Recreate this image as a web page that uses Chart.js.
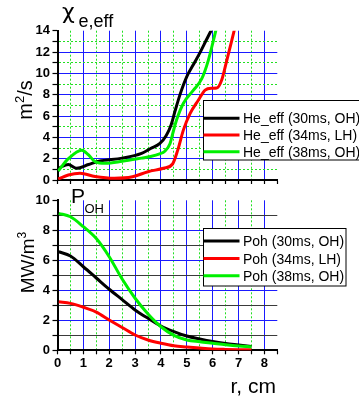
<!DOCTYPE html>
<html>
<head>
<meta charset="utf-8">
<script src="https://cdn.jsdelivr.net/npm/chart.js@4.4.1/dist/chart.umd.min.js"></script>
<style>
html,body{margin:0;padding:0;background:#fff;overflow:hidden;width:359px;height:403px;}
#wrap{position:relative;width:359px;height:403px;overflow:hidden;}
canvas{position:absolute;left:0;top:0;}
svg{position:absolute;left:0;top:0;font-family:"Liberation Sans",Arial,sans-serif;}
</style>
</head>
<body>
<div id="wrap">
<canvas id="top" width="359" height="403"></canvas>
<canvas id="bot" width="359" height="403"></canvas>
<svg id="ov" width="359" height="403" xmlns="http://www.w3.org/2000/svg"></svg>
</div>
<script>
// ---------- data ----------
// upper panel: chi_e,eff [m^2/s] vs r [cm]
const chiR30 = [0.03, 0.42, 0.74, 1.2, 1.6, 2.5, 3.25, 3.6, 3.95, 4.2, 4.4, 4.55, 4.75, 5.0, 5.25, 5.5, 5.75, 6.0];
const chi30  = [1.1, 1.45, 1.1, 1.45, 1.75, 2.05, 2.5, 2.95, 3.4, 4.15, 5.2, 6.5, 8.1, 9.7, 10.8, 11.9, 13.1, 14.3];
const chiR34 = [0.03, 0.42, 0.87, 1.45, 2.2, 2.9, 3.5, 4.1, 4.45, 4.65, 4.87, 5.13, 5.45, 5.71, 5.95, 6.16, 6.35, 6.55, 6.74, 6.86];
const chi34  = [0.1, 0.47, 0.63, 0.33, 0.16, 0.3, 0.78, 1.1, 1.5, 2.8, 4.7, 6.25, 7.5, 8.43, 8.6, 8.62, 9.37, 11.25, 13.1, 14.3];
const chiR38 = [0.03, 0.42, 0.94, 1.2, 1.45, 1.85, 2.5, 3.25, 3.6, 3.95, 4.15, 4.35, 4.45, 4.6, 4.87, 5.25, 5.58, 5.83, 6.03, 6.15];
const chi38  = [0.85, 2.0, 2.8, 2.35, 1.72, 1.56, 1.75, 2.05, 2.2, 2.45, 2.7, 3.4, 4.3, 5.6, 7.2, 8.4, 9.5, 11.2, 13.1, 14.3];
// lower panel: P_OH [MW/m^3] vs r [cm]
const pohR   = [0.05, 0.5, 1.0, 1.5, 2.0, 2.5, 3.0, 3.5, 4.0, 4.5, 5.0, 5.5, 6.0, 6.5, 7.0, 7.5];
const poh30  = [6.57, 6.29, 5.57, 4.82, 4.07, 3.38, 2.69, 2.13, 1.62, 1.25, 0.95, 0.75, 0.58, 0.45, 0.35, 0.25];
const poh34  = [3.24, 3.13, 2.87, 2.55, 2.02, 1.52, 1.02, 0.69, 0.47, 0.30, 0.22, 0.15, 0.09, 0.06, 0.04, 0.03];
const poh38  = [9.13, 8.9, 8.24, 7.45, 6.24, 4.75, 3.47, 2.42, 1.57, 1.0, 0.69, 0.57, 0.47, 0.37, 0.29, 0.24];
const chiLabels = ["He_eff (30ms, OH)", "He_eff (34ms, LH)", "He_eff (38ms, OH)"];
const pohLabels = ["Poh (30ms, OH)", "Poh (34ms, LH)", "Poh (38ms, OH)"];
const xMin = 0, xMax = 8.5, xStep = 0.5;
const chiMax = 14, pohMax = 10;

// ---------- styles ----------
const COLORS = ["#000000", "#ff0000", "#00f000"];
const BLUE = "#1a1aff", GREEN = "#22e022", DARK = "#3a3a3a";
const FONT = "'Liberation Sans', Arial, sans-serif";

function pts(xs, ys){ return xs.map((x,i)=>({x:x, y:ys[i]})); }
function isInt(v){ return Math.abs(v - Math.round(v)) < 1e-9; }

function makeChart(id, series, labels, yMax, oddColor, oddDash, pad, xH, showX){
  const datasets = series.map((s,i)=>({
    label: labels[i], data: pts(s[0], s[1]),
    borderColor: COLORS[i], borderWidth: 3, pointRadius: 0,
    cubicInterpolationMode: 'monotone', fill: false, clip: 0, order: 3 - i
  }));
  return new Chart(document.getElementById(id), {
    type: 'line',
    data: { datasets },
    options: {
      responsive: false, animation: false, devicePixelRatio: 1,
      layout: { padding: pad },
      plugins: { legend: { display: false }, tooltip: { enabled: false } },
      scales: {
        x: {
          type: 'linear', min: xMin, max: xMax,
          afterFit: s => { s.height = xH; },
          ticks: { display: showX, stepSize: xStep, autoSkip: false, maxRotation: 0, padding: 1.5,
                   color: '#000', font: { family: FONT, size: 13, weight: 'bold' },
                   callback: v => isInt(v) ? String(Math.round(v)) : '' },
          grid: { color: c => (!c.tick || c.tick.value >= xMax - 1e-9 || c.tick.value <= xMin) ? 'rgba(0,0,0,0)' : (isInt(c.tick.value) ? BLUE : GREEN),
                  lineWidth: 1, tickLength: 4, tickColor: '#000', tickWidth: 1.2 },
          border: { display: true, color: '#000', width: 2,
                    dash: c => (c.tick && !isInt(c.tick.value)) ? [2,2] : [] }
        },
        y: {
          type: 'linear', min: 0, max: yMax,
          afterFit: s => { s.width = 57.5; },
          ticks: { stepSize: 1, autoSkip: false, padding: 2.5, color: '#000',
                   font: { family: FONT, size: 13, weight: 'bold' },
                   callback: v => (isInt(v) && Math.round(v) % 2 === 0) ? String(Math.round(v)) : '' },
          grid: { color: c => (!c.tick || c.tick.value >= yMax - 1e-9 || c.tick.value <= 0) ? 'rgba(0,0,0,0)' : (Math.round(c.tick.value) % 2 === 0 ? BLUE : oddColor),
                  lineWidth: 1, tickLength: 5, tickColor: '#000', tickWidth: 1.2 },
          border: { display: true, color: '#000', width: 2,
                    dash: c => (c.tick && Math.round(c.tick.value) % 2 !== 0) ? oddDash : [] }
        }
      }
    }
  });
}

makeChart('top', [[chiR30, chi30], [chiR34, chi34], [chiR38, chi38]], chiLabels, chiMax, GREEN, [2,2],
  { left: 0, right: 81.7, top: 30.7, bottom: 213 }, 10, false);
makeChart('bot', [[pohR, poh30], [pohR, poh34], [pohR, poh38]], pohLabels, pohMax, DARK, [],
  { left: 0, right: 81.7, top: 200.3, bottom: 30.7 }, 22, true);

// ---------- text overlay ----------
const NS = "http://www.w3.org/2000/svg";
const ov = document.getElementById('ov');
function el(tag, attrs, text){
  const e = document.createElementNS(NS, tag);
  for (const k in attrs) e.setAttribute(k, attrs[k]);
  if (text !== undefined) e.textContent = text;
  ov.appendChild(e); return e;
}
function legend(x, y, w, h, rows, labels){
  el('rect', { x: x, y: y, width: w, height: h, fill: '#fff', stroke: '#000', 'stroke-width': 1 });
  rows.forEach((ry, i) => {
    el('line', { x1: x, y1: ry, x2: x + 36, y2: ry, stroke: COLORS[i], 'stroke-width': 3 });
    el('text', { x: x + 39.5, y: ry + 5, 'font-size': 14, fill: '#000' }, labels[i]);
  });
}
legend(203.5, 100.5, 170, 59.5, [118.3, 135, 151.7], chiLabels);
legend(203.5, 228.5, 142.5, 57.5, [241, 258.5, 275.7], pohLabels);

el('text', { x: 62, y: 19, 'font-size': 22, 'font-family': "'DejaVu Sans', sans-serif" }, 'χ');
el('text', { x: 78.5, y: 26.5, 'font-size': 18 }, 'e,eff');
el('text', { x: 71, y: 203, 'font-size': 21 }, 'P');
el('text', { x: 84.5, y: 213, 'font-size': 13 }, 'OH');
el('text', { x: 230.5, y: 393, 'font-size': 21 }, 'r, cm');

const t1 = el('text', { transform: 'translate(31.5,100) rotate(-90)', 'text-anchor': 'middle', 'font-size': 20 });
t1.innerHTML = 'm<tspan font-size="13" dy="-8">2</tspan><tspan dy="8">/s</tspan>';
const t2 = el('text', { transform: 'translate(34.3,262.5) rotate(-90)', 'text-anchor': 'middle', 'font-size': 19 });
t2.innerHTML = 'MW/m<tspan font-size="12" dy="-8">3</tspan>';
</script>
</body>
</html>
